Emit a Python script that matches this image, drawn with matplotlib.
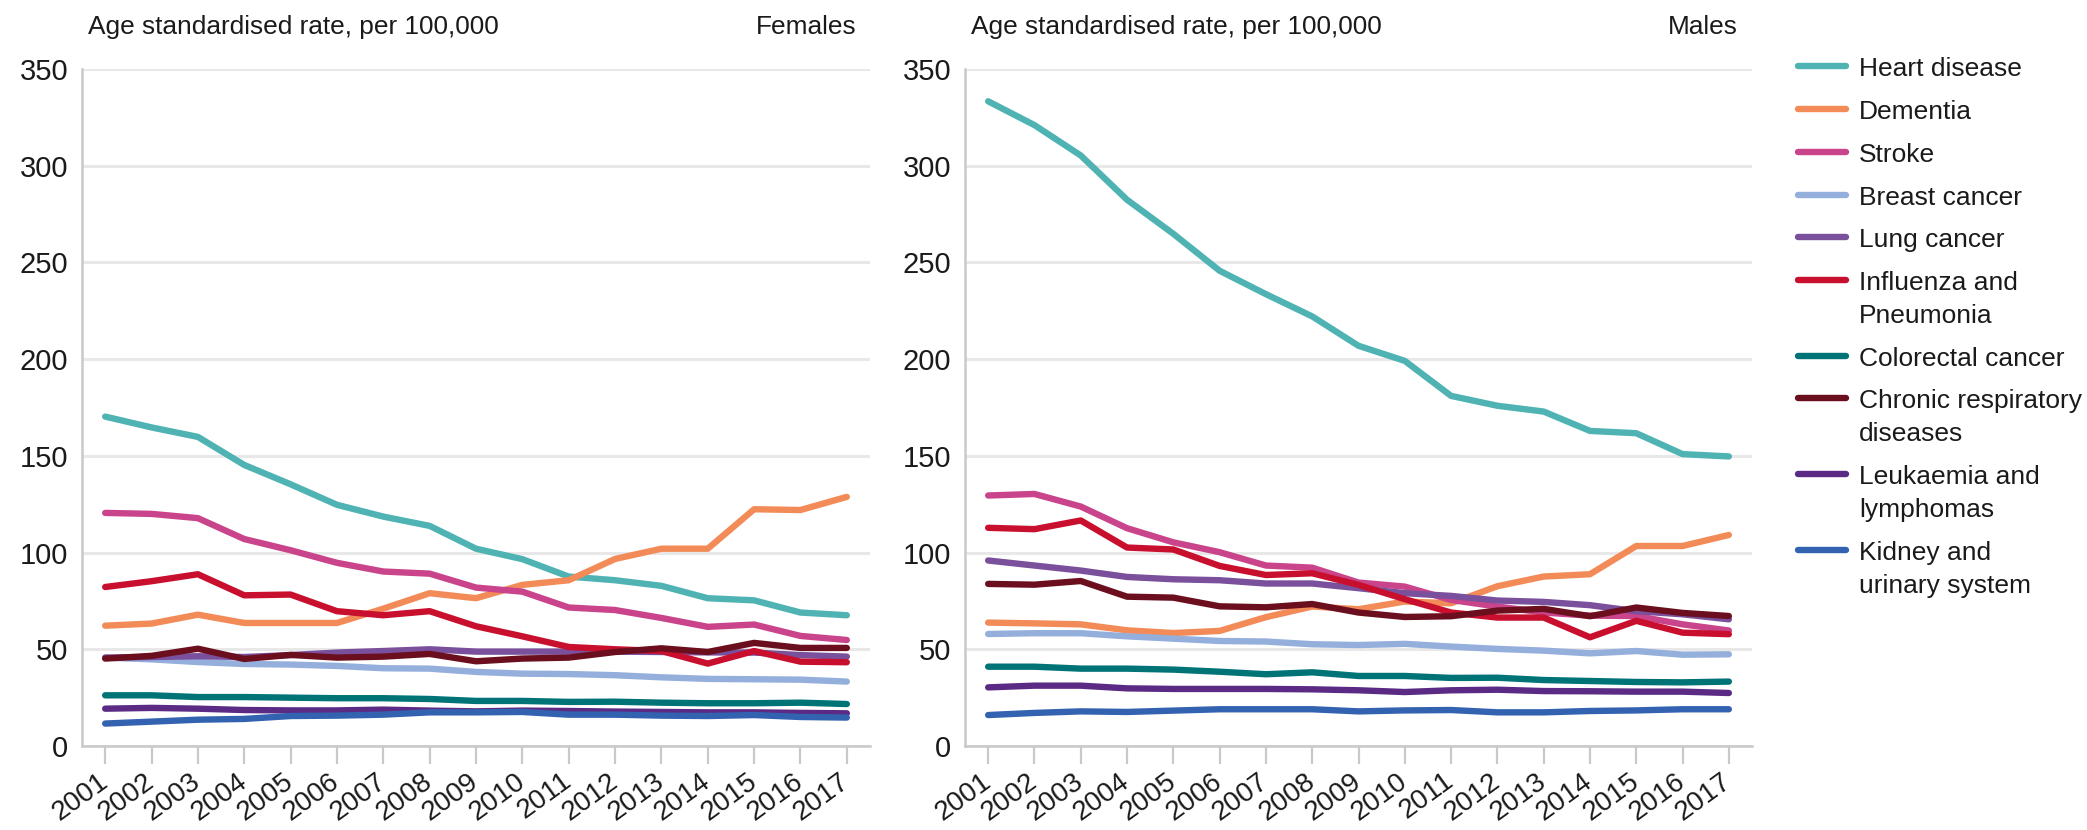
import matplotlib
matplotlib.use('Agg')
import matplotlib.pyplot as plt
from matplotlib.lines import Line2D

plt.rcParams['font.family'] = ['Liberation Sans', 'DejaVu Sans']

years = list(range(2001, 2018))

labels = ['Heart disease', 'Dementia', 'Stroke', 'Breast cancer', 'Lung cancer',
          'Influenza and\nPneumonia', 'Colorectal cancer', 'Chronic respiratory\ndiseases',
          'Leukaemia and\nlymphomas', 'Kidney and\nurinary system']
colors = ['#4fb3b4', '#f28b58', '#c9448a', '#94afdc', '#7a4f9c',
          '#c8102e', '#007377', '#6b0f1f', '#5a2a85', '#3363b0']

# Females
heart_f = [170.3, 164.7, 159.8, 145.3, 135.3, 124.7, 118.6, 113.8, 102.0, 96.6, 87.6, 85.7, 82.8, 76.4, 75.3, 69.0, 67.6]
dementia_f = [62.2, 63.3, 67.9, 63.6, 63.6, 63.6, 71.0, 79.0, 76.4, 83.3, 85.7, 96.7, 102.0, 102.0, 122.4, 122.0, 128.8]
stroke_f = [120.5, 120.0, 117.8, 107.0, 101.2, 94.7, 90.2, 89.1, 81.9, 79.8, 71.6, 70.3, 66.2, 61.6, 62.8, 56.9, 54.8]
breast_f = [45.7, 44.8, 43.4, 42.4, 42.1, 41.4, 40.2, 40.0, 38.3, 37.4, 37.2, 36.6, 35.5, 34.7, 34.5, 34.3, 33.3]
lung_f = [45.7, 46.0, 46.4, 46.0, 47.0, 48.3, 49.1, 50.0, 48.8, 48.8, 48.8, 48.8, 48.6, 48.4, 48.3, 47.0, 46.2]
flu_f = [82.2, 85.2, 88.8, 77.9, 78.3, 69.7, 67.6, 69.7, 61.9, 56.7, 51.2, 50.0, 49.1, 42.6, 49.1, 43.6, 43.3]
colorectal_f = [26.2, 26.2, 25.3, 25.3, 25.0, 24.7, 24.7, 24.3, 23.3, 23.3, 22.8, 22.9, 22.4, 22.1, 22.1, 22.4, 21.7]
chronic_f = [45.2, 46.6, 50.3, 45.0, 47.1, 45.7, 46.2, 47.6, 43.8, 45.2, 45.7, 48.6, 50.5, 48.6, 53.3, 50.7, 50.7]
leuk_f = [19.3, 19.7, 19.3, 18.6, 18.4, 18.4, 18.8, 18.3, 17.9, 18.3, 18.1, 17.8, 17.6, 17.4, 17.4, 17.1, 16.9]
kidney_f = [11.6, 12.6, 13.6, 14.0, 15.5, 15.7, 16.2, 17.4, 17.4, 17.6, 16.2, 16.2, 15.7, 15.5, 16.0, 15.0, 14.7]

# Males
heart_m = [333.3, 321.0, 305.3, 282.4, 264.8, 245.7, 233.6, 222.1, 206.9, 199.1, 181.0, 175.9, 172.9, 162.9, 161.7, 150.9, 149.7]
dementia_m = [63.8, 63.4, 62.9, 59.8, 58.4, 59.5, 66.6, 72.1, 70.7, 74.7, 73.8, 82.6, 87.6, 88.8, 103.4, 103.4, 109.1]
stroke_m = [129.5, 130.3, 123.8, 112.6, 105.3, 100.2, 93.3, 92.2, 84.5, 82.4, 75.5, 72.1, 69.0, 67.4, 67.2, 62.9, 59.7]
breast_m = [57.9, 58.3, 58.3, 56.7, 55.5, 54.3, 54.0, 52.6, 52.2, 52.8, 51.4, 50.2, 49.3, 47.9, 49.1, 47.2, 47.4]
lung_m = [95.9, 93.3, 90.7, 87.4, 86.2, 85.7, 84.0, 84.0, 81.6, 79.0, 77.6, 75.2, 74.5, 72.8, 69.7, 68.1, 65.5]
flu_m = [112.8, 112.1, 116.6, 102.6, 101.6, 93.1, 88.4, 89.3, 83.3, 75.9, 69.0, 66.4, 66.4, 56.2, 64.7, 58.6, 57.8]
colorectal_m = [41.0, 41.0, 40.0, 40.0, 39.5, 38.4, 37.1, 38.1, 36.2, 36.2, 35.2, 35.3, 34.1, 33.6, 33.1, 32.9, 33.3]
chronic_m = [83.8, 83.4, 85.3, 77.2, 76.7, 72.2, 71.7, 73.4, 69.0, 66.7, 67.1, 70.0, 70.9, 67.1, 71.6, 68.8, 67.2]
leuk_m = [30.3, 31.2, 31.2, 29.8, 29.5, 29.5, 29.5, 29.3, 28.8, 27.9, 28.8, 29.1, 28.4, 28.3, 28.1, 28.1, 27.4]
kidney_m = [16.0, 17.1, 17.9, 17.6, 18.3, 19.0, 19.0, 19.0, 17.9, 18.4, 18.6, 17.4, 17.4, 18.1, 18.4, 19.0, 19.0]

females = [heart_f, dementia_f, stroke_f, breast_f, lung_f, flu_f, colorectal_f, chronic_f, leuk_f, kidney_f]
males = [heart_m, dementia_m, stroke_m, breast_m, lung_m, flu_m, colorectal_m, chronic_m, leuk_m, kidney_m]

W, H = 2087, 830
fig = plt.figure(figsize=(W / 100, H / 100), dpi=100)

text_col = '#1a1a1a'
grey = '#c9c9c9'

def setup_axes(ax, series, title):
    for vals, col in zip(series, colors):
        ax.plot(years, vals, color=col, lw=4.6, solid_capstyle='round', solid_joinstyle='round')
    ax.set_xlim(2000.5, 2017.5)
    ax.set_ylim(0, 350)
    ax.set_yticks(range(0, 351, 50))
    ax.set_xticks(years)
    ax.set_xticklabels([str(y) for y in years], rotation=36, ha='right', va='center',
                       rotation_mode='anchor')
    ax.grid(axis='y', color='#e8e8e8', lw=2.2)
    ax.set_axisbelow(True)
    for s in ['top', 'right']:
        ax.spines[s].set_visible(False)
    for s in ['left', 'bottom']:
        ax.spines[s].set_color(grey)
        ax.spines[s].set_linewidth(1.8)
    ax.tick_params(axis='y', length=0, pad=10, labelsize=21, labelcolor=text_col)
    ax.tick_params(axis='x', length=13, width=1.6, color=grey, pad=10.5, labelsize=20,
                   labelcolor=text_col)
    pos = ax.get_position()
    fig.text(pos.x0 + 6 / W, 1 - 34 / H, 'Age standardised rate, per 100,000',
             fontsize=18.9, color=text_col, ha='left', va='baseline')
    fig.text(pos.x1 - 14 / W, 1 - 34 / H, title,
             fontsize=18.9, color=text_col, ha='right', va='baseline')

ax1 = fig.add_axes([82 / W, 84 / H, 788 / W, 677 / H])
ax2 = fig.add_axes([965 / W, 84 / H, 787 / W, 677 / H])
setup_axes(ax1, females, 'Females')
setup_axes(ax2, males, 'Males')

# legend, line level with the first line of each label
y = 66.5
for lab, col in zip(labels, colors):
    fig.add_artist(Line2D([1798 / W, 1846 / W], [1 - y / H, 1 - y / H], color=col, lw=4.6,
                          solid_capstyle='round', transform=fig.transFigure))
    for k, part in enumerate(lab.split('\n')):
        fig.text(1859 / W, 1 - (y + 10 + 33 * k) / H, part, fontsize=19, color=text_col,
                 ha='left', va='baseline')
    y += 42.7 + 33 * lab.count('\n')

fig.savefig('out.png', dpi=100)
